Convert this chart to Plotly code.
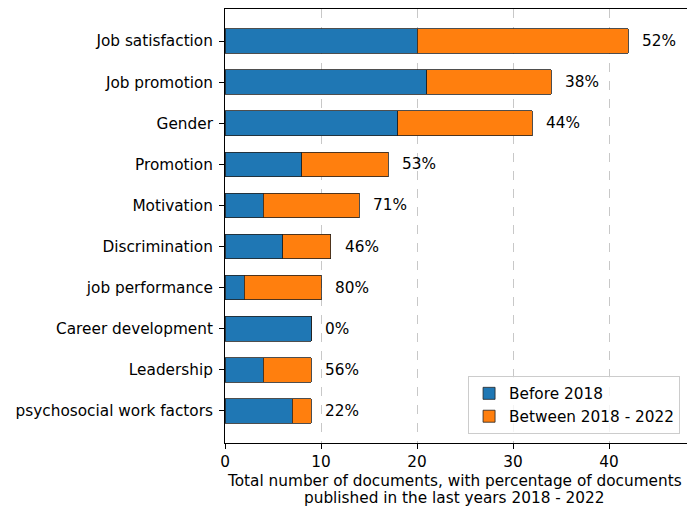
import plotly.graph_objects as go

categories = ["Job satisfaction", "Job promotion", "Gender", "Promotion", "Motivation",
              "Discrimination", "job performance", "Career development", "Leadership",
              "psychosocial work factors"]
before_2018 = [20, 21, 18, 8, 4, 6, 2, 9, 4, 7]
between_2018_2022 = [22, 13, 14, 9, 10, 5, 8, 0, 5, 2]
pct_labels = ["52%", "38%", "44%", "53%", "71%", "46%", "80%", "0%", "56%", "22%"]
x_ticks = [0, 10, 20, 30, 40]
x_title_lines = ["Total number of documents, with percentage of documents",
                 "published in the last years 2018 - 2022"]

FONT = "DejaVu Sans"
FS = 15.3

fig = go.Figure()
fig.add_trace(go.Bar(
    y=categories, x=before_2018, orientation="h", name="Before 2018",
    marker=dict(color="#1f77b4", line=dict(color="#222222", width=0.8)),
))
fig.add_trace(go.Bar(
    y=categories, x=between_2018_2022, orientation="h", name="Between 2018 - 2022",
    marker=dict(color="#ff7f0e", line=dict(color="#222222", width=0.8)),
))

totals = [b + a for b, a in zip(before_2018, between_2018_2022)]
for cat, tot, lab in zip(categories, totals, pct_labels):
    fig.add_annotation(x=tot, y=cat, text=lab, showarrow=False, xanchor="left",
                       xshift=12, font=dict(family=FONT, size=FS, color="black"))

for line, ypos in zip(x_title_lines, [-0.0876, -0.1267]):
    fig.add_annotation(
        xref="paper", yref="paper", x=0.497, y=ypos, yanchor="middle", xanchor="center",
        showarrow=False, text=line, font=dict(family=FONT, size=FS, color="black"),
    )

fig.update_layout(
    width=687, height=508,
    margin=dict(l=225, r=0, t=9, b=65),
    barmode="stack", bargap=0.4,
    plot_bgcolor="white", paper_bgcolor="white",
    font=dict(family=FONT, size=FS, color="black"),
    showlegend=True,
    legend=dict(x=0.985, y=0.021, xanchor="right", yanchor="bottom",
                bgcolor="rgba(255,255,255,0.8)", bordercolor="#cccccc", borderwidth=1,
                font=dict(family=FONT, size=FS, color="black"), traceorder="normal",
                itemwidth=30),
    xaxis=dict(range=[0, 48.125], tickvals=x_ticks, showgrid=True,
               gridcolor="#c8c8c8", griddash="dash", gridwidth=1,
               showline=True, linecolor="black", linewidth=1, mirror=True,
               ticks="outside", ticklen=5, tickcolor="black", zeroline=False),
    yaxis=dict(categoryorder="array", categoryarray=categories,
               range=[9.78, -0.78], showgrid=False,
               showline=True, linecolor="black", linewidth=1,
               ticks="outside", ticklen=5, tickcolor="black", ticklabelstandoff=3),
)

fig.write_html("out.html")
